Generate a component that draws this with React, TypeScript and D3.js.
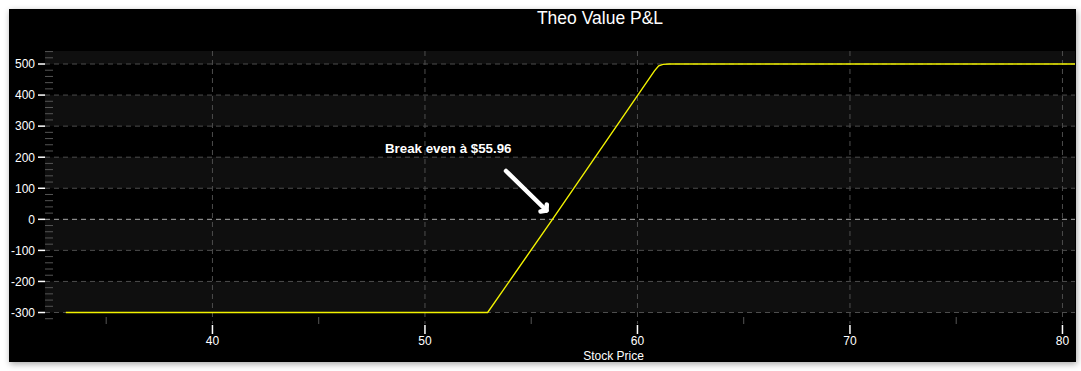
import React from "react";
import * as d3 from "d3";

const stockPrice = [33.1, 52.95, 56.0, 60.8, 61.0, 61.2, 61.5, 80.6];
const pnlValue = [-300, -300, 0, 478, 494, 499, 500, 500];
const yTicks = [-300, -200, -100, 0, 100, 200, 300, 400, 500];
const xTicks = [40, 50, 60, 70, 80];
const xMinorTicks = [35, 45, 55, 65, 75];
const title = "Theo Value P&L";
const xLabel = "Stock Price";
const annotation = "Break even à $55.96";

const W = 1081;
const H = 371;
const FL = 9, FT = 9, FR = 1076, FB = 362;
const PL = 45, PR = 1075, PT = 51, PB = 324;

export default function App() {
  const x = d3.scaleLinear().domain([32.12, 80.59]).range([PL, PR]);
  const y = d3.scaleLinear().domain([-337, 541.9]).range([PB, PT]);
  const yMinor = d3.range(-320, 541, 20).filter((v) => v % 100 !== 0);
  const line = d3
    .line<number>()
    .x((_, i) => x(stockPrice[i]))
    .y((d) => y(d));
  const bands: [number, number][] = [];
  for (let i = 0; i < yTicks.length; i += 2) {
    bands.push([yTicks[i], i + 1 < yTicks.length ? yTicks[i + 1] : y.domain()[1]]);
  }
  const font = "'Liberation Sans', Arial, sans-serif";
  return (
    <div style={{ position: "absolute", left: 0, top: 0, width: W, height: H, background: "#fff" }}>
      <svg width={W} height={H} style={{ display: "block" }}>
        <defs>
          <filter id="sh" x="-5%" y="-10%" width="110%" height="125%">
            <feDropShadow dx="1" dy="2" stdDeviation="3" floodColor="#000" floodOpacity="0.35" />
          </filter>
          <clipPath id="clip">
            <rect x={PL} y={PT} width={PR - PL} height={PB - PT} />
          </clipPath>
        </defs>
        <rect x={FL} y={FT} width={FR - FL} height={FB - FT} fill="#000" filter="url(#sh)" />
        {bands.map(([a, b], i) => (
          <rect key={i} x={PL} y={y(b)} width={PR - PL} height={y(a) - y(b)} fill="#0f0f0f" />
        ))}
        {xTicks.map((t) => (
          <line key={"vg" + t} x1={x(t)} x2={x(t)} y1={PT} y2={PB} stroke="#4d4d4d" strokeDasharray="5,4" />
        ))}
        {yTicks.map((t) => (
          <line
            key={"hg" + t}
            x1={PL}
            x2={PR}
            y1={y(t)}
            y2={y(t)}
            stroke={t === 0 ? "#a8a8a8" : "#4d4d4d"}
            strokeDasharray="5,4"
          />
        ))}
        {yMinor.map((t) => (
          <line key={"ym" + t} x1={PL} x2={PL + 8} y1={y(t)} y2={y(t)} stroke="#555" strokeWidth={1} />
        ))}
        {xMinorTicks.map((t) => (
          <line key={"xm" + t} x1={x(t)} x2={x(t)} y1={PB - 7} y2={PB} stroke="#555" strokeWidth={1} />
        ))}
        {yTicks.map((t) => (
          <g key={"yt" + t}>
            <line x1={PL - 7} x2={PL} y1={y(t)} y2={y(t)} stroke="#fff" strokeWidth={1.5} />
            <text
              x={35}
              y={y(t)}
              dy="0.36em"
              textAnchor="end"
              fill="#fff"
              fontFamily={font}
              fontSize={12}
            >
              {t}
            </text>
          </g>
        ))}
        {xTicks.map((t) => (
          <g key={"xt" + t}>
            <line x1={x(t)} x2={x(t)} y1={PB + 1} y2={PB + 10} stroke="#fff" strokeWidth={1.5} />
            <text x={x(t)} y={345} textAnchor="middle" fill="#fff" fontFamily={font} fontSize={12}>
              {t}
            </text>
          </g>
        ))}
        <path
          d={line(pnlValue) || ""}
          fill="none"
          stroke="#f2f200"
          strokeWidth={1.4}
          clipPath="url(#clip)"
        />
        <text x={600} y={24} textAnchor="middle" fill="#fff" fontFamily={font} fontSize={17.5}>
          {title}
        </text>
        <text x={613.5} y={360} textAnchor="middle" fill="#fff" fontFamily={font} fontSize={12}>
          {xLabel}
        </text>
        <text x={385} y={153} fill="#fff" fontFamily={font} fontSize={13.3} fontWeight="bold">
          {annotation}
        </text>
        <g stroke="#fff" strokeWidth={4.5} strokeLinecap="round" fill="none">
          <line x1={506} y1={171} x2={546.5} y2={210.5} />
          <polyline points="540.5,211.5 546.5,210.5 546.8,204.5" strokeLinejoin="round" />
        </g>
      </svg>
    </div>
  );
}
